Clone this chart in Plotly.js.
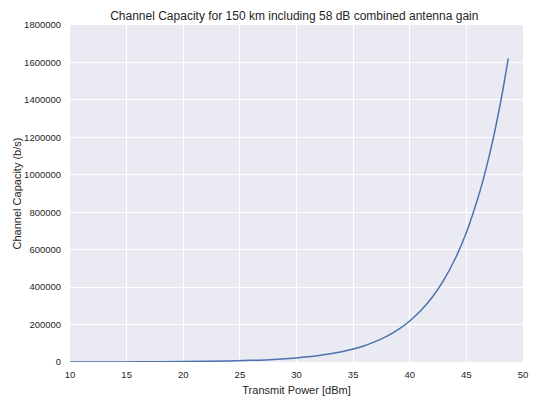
<!DOCTYPE html>
<html><head><meta charset="utf-8">
<script src="https://cdn.plot.ly/plotly-3.0.1.min.js"></script>
<style>html,body{margin:0;padding:0;background:#fff}#chart{width:540px;height:405px}</style>
</head><body><div id="chart"></div>
<script>
const powerDbm = [10, 12, 14, 16, 18, 20, 22, 24, 26, 28, 30, 31, 32, 33, 34, 35, 36, 37, 38, 39, 40, 41, 42, 43, 44, 45, 46, 46.5, 47, 47.5, 48, 48.3, 48.7];
const capacity = [219, 347, 550, 872, 1380, 2190, 3470, 5500, 8720, 13800, 21900, 27600, 34700, 43700, 55000, 69200, 87200, 110000, 138000, 174000, 219000, 276000, 347000, 437000, 550000, 692000, 872000, 977000, 1097000, 1230000, 1381000, 1480000, 1622000];
const xTicks = [10, 15, 20, 25, 30, 35, 40, 45, 50];
const yTicks = [0, 200000, 400000, 600000, 800000, 1000000, 1200000, 1400000, 1600000, 1800000];

const fontFam = '"Liberation Sans", Arial, sans-serif';
Plotly.newPlot('chart', [{
  x: powerDbm, y: capacity, type: 'scatter', mode: 'lines',
  line: {color: '#4C72B0', width: 1.5, shape: 'spline'}, hoverinfo: 'skip'
}], {
  width: 540, height: 405,
  margin: {l: 70, r: 17, t: 25, b: 43},
  paper_bgcolor: '#ffffff', plot_bgcolor: '#EAEAF2',
  font: {family: fontFam, color: '#262626', size: 10},
  title: {text: 'Channel Capacity for 150 km including 58 dB combined antenna gain', font: {size: 12, family: fontFam, color: '#262626'}, x: 0.545, xanchor: 'center', y: 0.96, yanchor: 'middle'},
  showlegend: false,
  xaxis: {range: [10, 50], tickvals: xTicks, ticktext: xTicks.map(String), showgrid: true, gridcolor: '#ffffff', gridwidth: 1, zeroline: false, showline: false, ticks: 'outside', ticklen: 4, tickcolor: 'rgba(0,0,0,0)',
    title: {text: 'Transmit Power [dBm]', font: {size: 11}, standoff: 6}, tickfont: {size: 9.5}},
  yaxis: {range: [0, 1800000], tickvals: yTicks, ticktext: yTicks.map(String), showgrid: true, gridcolor: '#ffffff', gridwidth: 1, zeroline: false, showline: false, ticks: 'outside', ticklen: 6, tickcolor: 'rgba(0,0,0,0)',
    title: {text: 'Channel Capacity (b/s)', font: {size: 11}, standoff: 0}, tickfont: {size: 9.5}}
}, {staticPlot: true, displayModeBar: false});
</script></body></html>
